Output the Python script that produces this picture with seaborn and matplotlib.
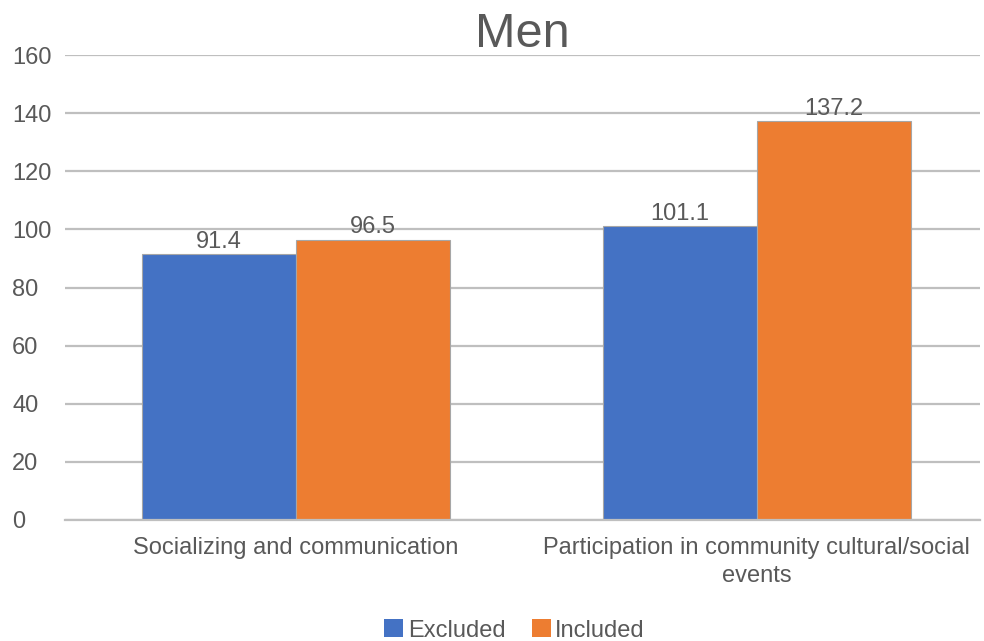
import matplotlib
matplotlib.use("Agg")
import matplotlib.pyplot as plt
import seaborn as sns
import pandas as pd
from matplotlib.patches import Patch

categories = ["Socializing and communication",
              "Participation in community cultural/social\nevents"]
series_names = ["Excluded", "Included"]
excluded = [91.4, 101.1]
included = [96.5, 137.2]
colors = ["#4472C4", "#ED7D31"]
y_ticks = [0, 20, 40, 60, 80, 100, 120, 140, 160]

df = pd.DataFrame({
    "category": categories * 2,
    "group": [series_names[0]] * 2 + [series_names[1]] * 2,
    "value": excluded + included,
})

sns.set_theme(style="white")
plt.rcParams["font.family"] = ["Liberation Sans", "DejaVu Sans"]
text_color = "#595959"

fig = plt.figure(figsize=(9.84, 6.41), dpi=100)
ax = fig.add_axes([65 / 984, 1 - 520 / 641, 915 / 984, 465 / 641])

sns.barplot(data=df, x="category", y="value", hue="group",
            palette=colors, width=0.668, ax=ax, legend=False,
            edgecolor="#a6a6a6", linewidth=0.8, saturation=1)

for container in ax.containers:
    ax.bar_label(container, fmt="%.1f", padding=1, fontsize=17,
                 color=text_color)

ax.set_xlim(-0.501, 1.484)
ax.set_ylim(0, 160)
ax.set_yticks(y_ticks)
ax.yaxis.grid(True, color="#bfbfbf", linewidth=1.6)
ax.set_axisbelow(True)
for side in ["top", "right", "left"]:
    ax.spines[side].set_visible(False)
ax.spines["bottom"].set_color("#bfbfbf")
ax.spines["bottom"].set_linewidth(1.6)
ax.tick_params(axis="y", length=0, pad=38, labelsize=17, labelcolor=text_color)
ax.tick_params(axis="x", length=0, pad=12, labelsize=17, labelcolor=text_color)
for lab in ax.get_yticklabels():
    lab.set_horizontalalignment("left")
for lab in ax.get_xticklabels():
    lab.set_linespacing(1.35)
ax.set_xlabel("")
ax.set_ylabel("")
ax.set_title("Men", fontsize=35, color=text_color, pad=6)

handles = [Patch(facecolor=c, edgecolor="none") for c in colors]
fig.legend(handles, series_names, loc="lower center", ncol=2,
           bbox_to_anchor=(0.523, -0.034), frameon=False, fontsize=17,
           handlelength=0.8, handleheight=0.8, handletextpad=0.2,
           columnspacing=1.1, labelcolor=text_color)

fig.savefig("out.png", dpi=100, facecolor="white")
